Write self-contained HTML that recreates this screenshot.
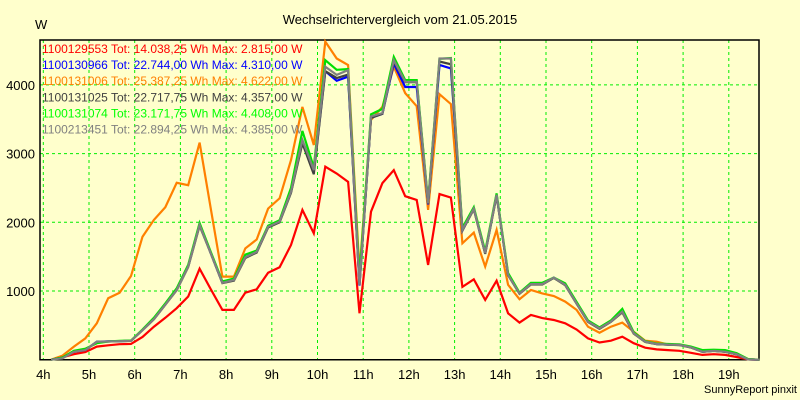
<!DOCTYPE html>
<html><head><meta charset="utf-8"><style>
html,body{margin:0;padding:0;background:#ffffcc;}
svg{display:block;font-family:"Liberation Sans",sans-serif;}
</style></head><body>
<svg id="chart" width="800" height="400" viewBox="0 0 800 400">
<rect x="0" y="0" width="800" height="400" fill="#ffffcc"/>
<text x="400" y="24" font-size="13" text-anchor="middle" fill="#000">Wechselrichtervergleich vom 21.05.2015</text>
<text x="35" y="29" font-size="13" fill="#000">W</text>
<g id="grid"></g>
<g id="axes"></g>
<g id="series"></g>
<g id="legend"></g>
<text x="797" y="393" font-size="11" text-anchor="end" fill="#000">SunnyReport pinxit</text>
</svg>
<script>
const times=[4.17,4.42,4.67,4.92,5.17,5.42,5.67,5.92,6.17,6.42,6.67,6.92,7.17,7.42,7.67,7.92,8.17,8.42,8.67,8.92,9.17,9.42,9.67,9.92,10.17,10.42,10.67,10.92,11.17,11.42,11.67,11.92,12.17,12.42,12.67,12.92,13.17,13.42,13.67,13.92,14.17,14.42,14.67,14.92,15.17,15.42,15.67,15.92,16.17,16.42,16.67,16.92,17.17,17.42,17.67,17.92,18.17,18.42,18.67,18.92,19.17,19.42,19.67];
const red=[0,35,80,110,190,210,225,230,330,480,610,750,920,1325,1020,725,725,975,1025,1266,1345,1670,2180,1840,2810,2710,2590,675,2155,2570,2760,2380,2325,1380,2410,2360,1060,1170,870,1150,675,540,650,605,578,530,440,310,250,277,335,240,175,150,140,130,100,70,80,70,40,5,0];
const orange=[0,60,190,310,530,895,975,1218,1790,2035,2220,2575,2540,3160,2180,1210,1210,1620,1750,2200,2350,2905,3680,3125,4630,4385,4290,1280,3490,3680,4265,3880,3690,2180,3865,3720,1695,1850,1355,1890,1090,880,1015,965,927,845,725,480,393,480,540,408,277,262,220,215,180,117,130,117,80,5,0];
const blue=[0,30,115,140,262,268,270,275,432,592,805,1020,1360,1975,1540,1120,1160,1490,1570,1935,2010,2440,3180,2740,4200,4060,4120,1080,3520,3580,4310,3970,3970,2260,4290,4240,1880,2200,1550,2400,1235,965,1100,1100,1195,1090,820,555,457,555,700,385,262,228,220,215,180,117,130,117,80,5,0];
const darkgray=[0,30,115,140,260,265,270,275,430,588,800,1012,1350,1950,1540,1115,1150,1480,1560,1925,2000,2430,3150,2700,4200,4100,4150,1090,3520,3580,4340,4040,4040,2270,4340,4300,1880,2190,1540,2390,1230,960,1095,1095,1190,1085,815,550,450,550,690,380,258,225,218,212,178,115,128,115,78,5,0];
const green=[0,30,130,160,240,265,275,280,440,610,820,1040,1380,1990,1560,1140,1180,1530,1590,1950,2030,2500,3330,2800,4360,4220,4230,1200,3570,3650,4408,4070,4070,2300,4380,4390,1920,2220,1580,2420,1260,975,1120,1120,1195,1110,840,570,470,570,740,400,270,235,228,222,190,140,145,140,95,10,0];
const gray=[0,20,115,140,260,265,270,275,430,590,800,1015,1355,1960,1540,1120,1160,1490,1570,1935,2010,2445,3200,2760,4265,4145,4215,1090,3540,3590,4360,4045,4045,2275,4385,4385,1890,2200,1550,2400,1235,965,1100,1100,1195,1090,820,555,457,555,700,385,262,228,220,215,180,117,130,117,80,5,0];
const hourTicks=[4,5,6,7,8,9,10,11,12,13,14,15,16,17,18,19];
const yTicks=[1000,2000,3000,4000];
const legendLabels=["1100129553 Tot: 14.038,25 Wh Max: 2.815,00 W","1100130966 Tot: 22.744,00 Wh Max: 4.310,00 W","1100131006 Tot: 25.387,25 Wh Max: 4.622,00 W","1100131025 Tot: 22.717,75 Wh Max: 4.357,00 W","1100131074 Tot: 23.171,75 Wh Max: 4.408,00 W","1100213451 Tot: 22.894,25 Wh Max: 4.385,00 W"];

const NS="http://www.w3.org/2000/svg";
const L=40,R=759,T=40,B=359.7;
function xs(h){return 43.3+(h-4)*45.7;}
function ys(v){return B-v*0.0687;}
function mk(tag,attrs,parent){const e=document.createElementNS(NS,tag);for(const k in attrs)e.setAttribute(k,attrs[k]);parent.appendChild(e);return e;}
const grid=document.getElementById('grid'),axes=document.getElementById('axes'),ser=document.getElementById('series'),leg=document.getElementById('legend');
hourTicks.forEach(h=>{
 const l=mk('line',{x1:xs(h),x2:xs(h),y1:T,y2:B,stroke:'#00ee00','stroke-dasharray':'3,3','stroke-width':1},grid);
 
 
 const t=mk('text',{x:xs(h),y:379,'font-size':13,'text-anchor':'middle',fill:'#000'},axes);
 t.textContent=h+'h';
 
 
});
yTicks.forEach(v=>{
 const l=mk('line',{x1:L,x2:R,y1:ys(v),y2:ys(v),stroke:'#00ee00','stroke-dasharray':'3,3','stroke-width':1},grid);
 
 
 const t=mk('text',{x:35,y:ys(v)+5,'font-size':13,'text-anchor':'end',fill:'#000'},axes);
 t.textContent=v;
 
 
});
const frame=mk('path',{d:`M${L},${T}H${R}V${B}H${L}Z`,fill:'none',stroke:'#000','stroke-width':1.5},axes);


const seriesList=[[red,'#ff0000','series-1100129553'],[orange,'#ff8000','series-1100131006'],[blue,'#0000ff','series-1100130966'],[darkgray,'#404040','series-1100131025'],[green,'#00e000','series-1100131074'],[gray,'#808080','series-1100213451']];
seriesList.forEach(s=>{
 const pts=s[0].map((v,i)=>xs(times[i]).toFixed(1)+','+ys(v).toFixed(1)).join(' ');
 const p=mk('polyline',{points:pts,fill:'none',stroke:s[1],'stroke-width':2.2,'stroke-linejoin':'miter'},ser);
 
 
});
const legColors=['#ff0000','#0000ff','#ff8000','#404040','#00ff00','#808080'];
legendLabels.forEach((txt,i)=>{
 const t=mk('text',{x:42,y:53+i*16.1,'font-size':12,fill:legColors[i]},leg);
 t.textContent=txt;
 
 
});
</script>
</body></html>
